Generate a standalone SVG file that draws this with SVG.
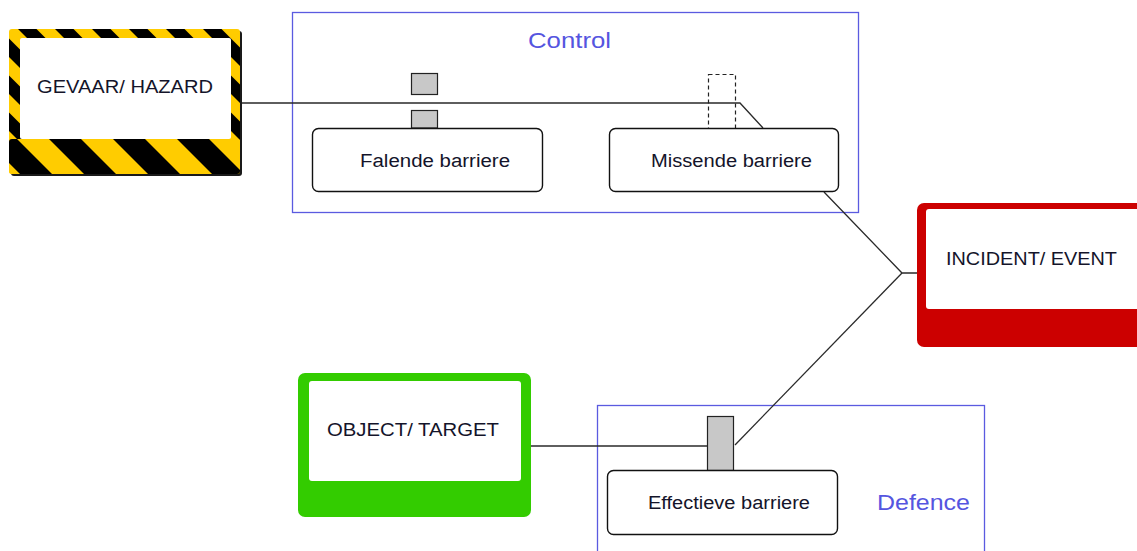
<svg xmlns="http://www.w3.org/2000/svg" width="1137" height="551" viewBox="0 0 1137 551">
  <defs>
    <clipPath id="hazardClip">
      <rect x="9" y="29" width="231" height="145" rx="3"/>
    </clipPath>
    <clipPath id="hazardBandClip">
      <rect x="9" y="139" width="231" height="35" rx="3"/>
    </clipPath>
    <style>
      .label { font-family: "Liberation Sans", Arial, sans-serif; font-size: 18px; fill: #14142a; }
      .zone { fill: none; stroke: #5b5be0; stroke-width: 1.3; }
      .zoneLabel { font-family: "Liberation Sans", Arial, sans-serif; font-size: 22px; fill: #5555e0; }
      .barrier { fill: #fff; stroke: #111; stroke-width: 1.4; }
      .block { fill: #c8c8c8; stroke: #222; stroke-width: 1.2; }
      .wire { fill: none; stroke: #2a2a2a; stroke-width: 1.3; }
      .stripe { fill: #000; }
      .warnYellow { fill: #ffcc00; }
    </style>
  </defs>

  <rect width="1137" height="551" fill="#fff"/>

  <!-- zones -->
  <g id="control-zone">
    <rect class="zone" x="292.5" y="12.5" width="566" height="200"/>
    <text class="zoneLabel" x="528" y="48" textLength="83" lengthAdjust="spacingAndGlyphs">Control</text>
  </g>
  <g id="defence-zone">
    <rect class="zone" x="597.5" y="405.5" width="387" height="160"/>
    <text class="zoneLabel" x="877" y="510" textLength="93" lengthAdjust="spacingAndGlyphs">Defence</text>
  </g>

  <!-- connectors -->
  <g id="connectors">
    <polyline class="wire" points="241,103 740,103 763,128"/>
    <polyline class="wire" points="824,192 902,273 917,273"/>
    <polyline class="wire" points="902,273 735,445"/>
    <polyline class="wire" points="531,446 707,446"/>
  </g>

  <!-- hazard: yellow/black striped frame with a wider-striped lower band -->
  <g id="hazard">
    <rect x="11" y="31" width="231" height="145" rx="3" fill="#1a1a1a"/>
    <g clip-path="url(#hazardClip)">
      <rect class="warnYellow" x="9" y="29" width="231" height="145"/>
      <path class="stripe" d="M-176 20H-157.5L7.5 185H-11Z M-139 20H-120.5L44.5 185H26Z M-102 20H-83.5L81.5 185H63Z M-65 20H-46.5L118.5 185H100Z M-28 20H-9.5L155.5 185H137Z M9 20H27.5L192.5 185H174Z M46 20H64.5L229.5 185H211Z M83 20H101.5L266.5 185H248Z M120 20H138.5L303.5 185H285Z M157 20H175.5L340.5 185H322Z M194 20H212.5L377.5 185H359Z M231 20H249.5L414.5 185H396Z"/>
    </g>
    <g clip-path="url(#hazardBandClip)">
      <rect class="warnYellow" x="9" y="139" width="231" height="35"/>
      <path class="stripe" d="M-24 130H8L63 185H31Z M40 130H72L127 185H95Z M104 130H136L191 185H159Z M168 130H200L255 185H223Z M232 130H264L319 185H287Z"/>
    </g>
    <rect x="20" y="38" width="211" height="101" rx="2" fill="#fff"/>
    <text class="label" x="37" y="93" textLength="176" lengthAdjust="spacingAndGlyphs">GEVAAR/ HAZARD</text>
  </g>

  <!-- failing barrier -->
  <g id="falende-barriere">
    <rect class="block" x="411.5" y="73.5" width="26" height="21"/>
    <rect class="block" x="411.5" y="110.5" width="26" height="17.5"/>
    <rect class="barrier" x="312.5" y="128.5" width="230" height="63" rx="6"/>
    <text class="label" x="360" y="167" textLength="150" lengthAdjust="spacingAndGlyphs">Falende barriere</text>
  </g>

  <!-- missing barrier -->
  <g id="missende-barriere">
    <rect x="708.5" y="74.5" width="27" height="54" fill="none" stroke="#222" stroke-width="1.2" stroke-dasharray="4 3"/>
    <rect class="barrier" x="609.5" y="128.5" width="229" height="63" rx="6"/>
    <text class="label" x="651" y="167" textLength="161" lengthAdjust="spacingAndGlyphs">Missende barriere</text>
  </g>

  <!-- incident -->
  <g id="incident">
    <rect x="917" y="203" width="240" height="144" rx="7" fill="#cc0000"/>
    <rect x="926" y="209" width="220" height="100" rx="3" fill="#fff"/>
    <text class="label" x="946" y="265" textLength="171" lengthAdjust="spacingAndGlyphs">INCIDENT/ EVENT</text>
  </g>

  <!-- target -->
  <g id="target">
    <rect x="298" y="373" width="233" height="144" rx="7" fill="#33cc00"/>
    <rect x="309" y="381" width="212" height="100" rx="3" fill="#fff"/>
    <text class="label" x="327" y="436" textLength="172" lengthAdjust="spacingAndGlyphs">OBJECT/ TARGET</text>
  </g>

  <!-- effective barrier -->
  <g id="effectieve-barriere">
    <rect class="block" x="707.5" y="416.5" width="26" height="54"/>
    <rect class="barrier" x="607.5" y="470.5" width="230" height="64" rx="6"/>
    <text class="label" x="648" y="509" textLength="162" lengthAdjust="spacingAndGlyphs">Effectieve barriere</text>
  </g>
</svg>
